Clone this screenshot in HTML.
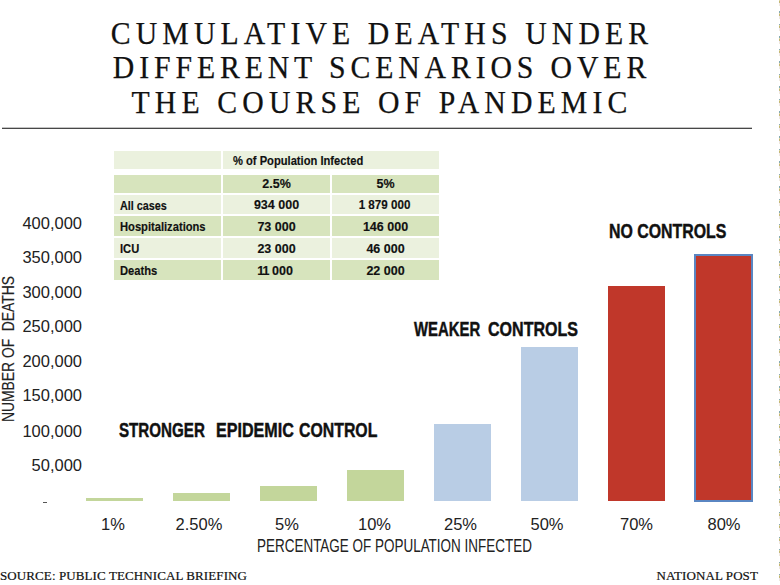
<!DOCTYPE html>
<html><head><meta charset="utf-8">
<style>
html,body{margin:0;padding:0;background:#fff;}
body{width:780px;height:585px;position:relative;overflow:hidden;font-family:"Liberation Sans",sans-serif;color:#111;}
.a{position:absolute;white-space:nowrap;}
.title{font-family:"Liberation Serif",serif;font-size:32px;letter-spacing:5.5px;color:#111;left:2px;width:760px;transform:scaleX(0.93);transform-origin:50% 0;-webkit-text-stroke:0.25px #111;text-align:center;line-height:34px;}
.rule{left:2px;top:127px;width:750px;height:2px;background:linear-gradient(#c4c4c4 0,#c4c4c4 1px,#474747 1px,#474747 2px);}
.cell{position:absolute;font-weight:bold;font-size:12px;line-height:12px;-webkit-text-stroke:0.15px #111;}
.t{transform:scaleX(0.93);transform-origin:0 0;}
.n{font-size:12.5px;transform-origin:50% 0;}
.l{background:#ebf1de;}
.d{background:#d7e4bd;}
.ylab{font-size:17px;line-height:16px;transform:scaleX(0.97);transform-origin:100% 0;text-align:right;width:70px;left:12px;color:#222;}
.xlab{font-size:16.5px;line-height:16px;text-align:center;width:80px;color:#222;}
.bar{position:absolute;}
.g{background:#c3d69b;}
.b{background:#b9cde5;}
.r{background:#c0372a;}
.lbl{font-weight:bold;font-size:20.5px;line-height:20px;color:#111;transform-origin:0 0;-webkit-text-stroke:0.45px #111;}
.serif{font-family:"Liberation Serif",serif;font-size:13px;line-height:14px;color:#111;-webkit-text-stroke:0.2px #111;letter-spacing:0.1px;}
.dash{left:779px;top:-1.5px;width:1px;height:590px;background:repeating-linear-gradient(to bottom,#86aab0 0,#86aab0 1px,#ddd5a5 1px,#ddd5a5 2px,#c4b873 2px,#c4b873 4px,#ebe3ef 4px,#ebe3ef 5px,#efe8dc 5px,#efe8dc 7px,transparent 7px,transparent 12.5px);}
</style></head><body>
<div class="a title" style="top:16px">CUMULATIVE DEATHS UNDER</div>
<div class="a title" style="top:50px;letter-spacing:5.25px">DIFFERENT SCENARIOS OVER</div>
<div class="a title" style="top:85px">THE COURSE OF PANDEMIC</div>
<div class="a rule"></div>

<!-- table -->
<div class="cell l" style="left:114px;top:151px;width:107px;height:18px"></div>
<div class="cell l" style="left:223px;top:151px;width:216px;height:18px"></div>
<div class="cell d" style="left:114px;top:175px;width:107px;height:18px"></div>
<div class="cell d" style="left:223px;top:175px;width:107px;height:18px"></div>
<div class="cell d" style="left:332px;top:175px;width:107px;height:18px"></div>
<div class="cell l" style="left:114px;top:195px;width:107px;height:19px"></div>
<div class="cell l" style="left:223px;top:195px;width:107px;height:19px"></div>
<div class="cell l" style="left:332px;top:195px;width:107px;height:19px"></div>
<div class="cell d" style="left:114px;top:216px;width:107px;height:20px"></div>
<div class="cell d" style="left:223px;top:216px;width:107px;height:20px"></div>
<div class="cell d" style="left:332px;top:216px;width:107px;height:20px"></div>
<div class="cell l" style="left:114px;top:238px;width:107px;height:20px"></div>
<div class="cell l" style="left:223px;top:238px;width:107px;height:20px"></div>
<div class="cell l" style="left:332px;top:238px;width:107px;height:20px"></div>
<div class="cell d" style="left:114px;top:260px;width:107px;height:20px"></div>
<div class="cell d" style="left:223px;top:260px;width:107px;height:20px"></div>
<div class="cell d" style="left:332px;top:260px;width:107px;height:20px"></div>

<div class="a cell t" style="left:233px;top:155px">% of Population Infected</div>
<div class="a cell n" style="left:223px;top:178px;width:107px;text-align:center">2.5%</div>
<div class="a cell n" style="left:332px;top:178px;width:107px;text-align:center">5%</div>
<div class="a cell t" style="left:120px;top:200px;transform:scaleX(0.9)">All cases</div>
<div class="a cell n" style="left:223px;top:199px;width:107px;text-align:center">934 000</div>
<div class="a cell n" style="left:330.7px;top:199px;width:107px;text-align:center;transform:scaleX(0.93)">1 879 000</div>
<div class="a cell t" style="left:120px;top:221px">Hospitalizations</div>
<div class="a cell n" style="left:223px;top:221px;width:107px;text-align:center">73 000</div>
<div class="a cell n" style="left:332px;top:221px;width:107px;text-align:center">146 000</div>
<div class="a cell t" style="left:120px;top:243px">ICU</div>
<div class="a cell n" style="left:223px;top:243px;width:107px;text-align:center">23 000</div>
<div class="a cell n" style="left:332px;top:243px;width:107px;text-align:center">46 000</div>
<div class="a cell t" style="left:120px;top:265px">Deaths</div>
<div class="a cell n" style="left:221.5px;top:265px;width:107px;text-align:center;word-spacing:-1px"><span style="letter-spacing:-1.5px">1</span>1 000</div>
<div class="a cell n" style="left:332px;top:265px;width:107px;text-align:center">22 000</div>

<!-- y axis -->
<div class="a ylab" style="top:216px">400,000</div>
<div class="a ylab" style="top:250px">350,000</div>
<div class="a ylab" style="top:285px">300,000</div>
<div class="a ylab" style="top:319px">250,000</div>
<div class="a ylab" style="top:354px">200,000</div>
<div class="a ylab" style="top:388px">150,000</div>
<div class="a ylab" style="top:424px">100,000</div>
<div class="a ylab" style="top:458px">50,000</div>
<div class="a" style="left:43px;top:502px;width:4px;height:1px;background:#555"></div>
<div class="a" style="left:3px;top:422px;font-size:16px;line-height:12px;transform:rotate(-90deg) scaleX(0.866);-webkit-text-stroke:0.15px #222;transform-origin:0 0;color:#222">NUMBER OF&nbsp; DEATHS</div>

<!-- bars -->
<div class="bar g" style="left:86px;top:498px;width:57px;height:3px"></div>
<div class="bar g" style="left:173px;top:493px;width:57px;height:8px"></div>
<div class="bar g" style="left:260px;top:486px;width:57px;height:15px"></div>
<div class="bar g" style="left:347px;top:470px;width:57px;height:31px"></div>
<div class="bar b" style="left:434px;top:424px;width:57px;height:77px"></div>
<div class="bar b" style="left:521px;top:347px;width:57px;height:154px"></div>
<div class="bar r" style="left:608px;top:286px;width:57px;height:215px"></div>
<div class="bar r" style="left:694px;top:254px;width:55px;height:244px;border:2px solid #5a86c2"></div>

<!-- x labels -->
<div class="a xlab" style="left:73px;top:516px">1%</div>
<div class="a xlab" style="left:159px;top:516px">2.50%</div>
<div class="a xlab" style="left:247px;top:516px">5%</div>
<div class="a xlab" style="left:334.5px;top:516px">10%</div>
<div class="a xlab" style="left:420.5px;top:516px">25%</div>
<div class="a xlab" style="left:507px;top:516px">50%</div>
<div class="a xlab" style="left:596.5px;top:516px">70%</div>
<div class="a xlab" style="left:684px;top:516px">80%</div>
<div class="a" style="left:257px;top:537px;font-size:18.5px;line-height:18px;color:#222;transform:scaleX(0.728);transform-origin:0 0">PERCENTAGE OF POPULATION INFECTED</div>

<!-- labels -->
<div class="a lbl" style="left:119.3px;top:420px;transform:scaleX(0.739)">STRONGER</div>
<div class="a lbl" style="left:215.7px;top:420px;transform:scaleX(0.786)">EPIDEMIC</div>
<div class="a lbl" style="left:298.5px;top:420px;transform:scaleX(0.773)">CONTROL</div>
<div class="a lbl" style="left:413.8px;top:319px;transform:scaleX(0.727)">WEAKER</div>
<div class="a lbl" style="left:488.4px;top:319px;transform:scaleX(0.783)">CONTROLS</div>
<div class="a lbl" style="left:609px;top:221px;transform:scaleX(0.775)">NO CONTROLS</div>

<div class="a serif" style="left:0px;top:569px">SOURCE: PUBLIC TECHNICAL BRIEFING</div>
<div class="a serif" style="right:22px;top:569px">NATIONAL POST</div>
<div class="a dash"></div>
</body></html>
